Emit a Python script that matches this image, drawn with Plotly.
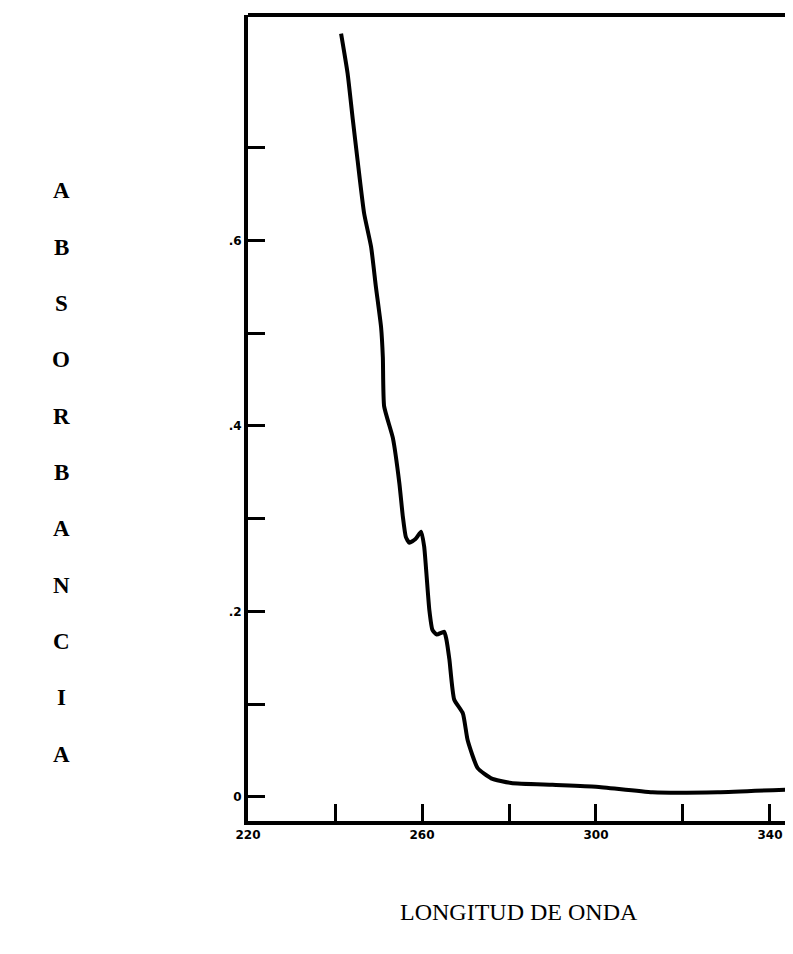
import plotly.graph_objects as go

# Wavelength (nm) and absorbance
wavelength = [241.4, 242.9, 244.1, 245.2, 246.7, 248.3, 249.4, 250.6, 251.0, 251.3,
              253.3, 254.8, 255.6, 256.3, 257.1, 258.5, 259.8, 260.5, 260.9, 261.7,
              262.4, 263.4, 265.1, 265.6, 266.3, 267.4, 269.4, 270.5, 272.8, 275.9,
              280.5, 290.0, 300.0, 313.0, 328.0, 344.5]
absorbance = [0.823, 0.780, 0.730, 0.686, 0.629, 0.593, 0.550, 0.506, 0.474, 0.421,
              0.387, 0.338, 0.302, 0.280, 0.274, 0.278, 0.286, 0.270, 0.248, 0.201,
              0.180, 0.175, 0.178, 0.170, 0.148, 0.105, 0.090, 0.061, 0.031, 0.020,
              0.015, 0.013, 0.011, 0.005, 0.005, 0.008]

x_tickvals = [220, 240, 260, 280, 300, 320, 340]
x_ticktext = ["220", "", "260", "", "300", "", "340"]
y_tickvals = [0, 0.1, 0.2, 0.3, 0.4, 0.5, 0.6, 0.7]
y_ticktext = ["0", "", ".2", "", ".4", "", ".6", ""]

y_title_letters = list("ABSORBANCIA")
x_title = "LONGITUD DE ONDA"

# page body has an 8px margin; figure is sized to fit inside the 793x954 window
OFF = 8
W, H = 785, 930
ml, mr, mt, mb = 240, 3, 7, 117
PW, PH = W - ml - mr, H - mt - mb


def px_to_paper(px, py):
    return (px - OFF - ml) / PW, (H - mb - (py - OFF)) / PH


fig = go.Figure()
fig.add_trace(go.Scatter(
    x=wavelength, y=absorbance, mode="lines",
    line=dict(color="black", width=4, shape="spline", smoothing=0.5),
    showlegend=False, hoverinfo="skip"))

axis_common = dict(showgrid=False, zeroline=False, showline=True, linecolor="black",
                   linewidth=4, ticks="inside", tickcolor="black", tickwidth=3,
                   ticklen=17,
                   tickfont=dict(family="DejaVu Sans", size=12, color="black",
                                 weight="bold"))

fig.update_xaxes(range=[220, 344.6], tickmode="array", tickvals=x_tickvals,
                 ticktext=x_ticktext, mirror=False, **axis_common)
fig.update_yaxes(range=[-0.026, 0.843], tickmode="array", tickvals=y_tickvals,
                 ticktext=y_ticktext, **axis_common)

# top frame line and partial right edge
fig.add_shape(type="line", xref="paper", yref="paper", x0=0, x1=1, y0=1, y1=1,
              line=dict(color="black", width=4))
fig.add_shape(type="line", xref="paper", yref="paper", x0=1, x1=1, y0=0, y1=0.1,
              line=dict(color="black", width=3))

annotations = []
for i, letter in enumerate(y_title_letters):
    ax, ay = px_to_paper(61, 191 + i * 56.3)
    annotations.append(dict(
        text=letter, xref="paper", yref="paper", x=ax, y=ay,
        showarrow=False, xanchor="center", yanchor="middle",
        font=dict(family="Liberation Serif", size=23, color="black", weight="bold")))
tx, ty = px_to_paper(519, 912)
annotations.append(dict(
    text=x_title, xref="paper", yref="paper", x=tx, y=ty,
    showarrow=False, xanchor="center", yanchor="middle",
    font=dict(family="Liberation Serif", size=24, color="black")))

fig.update_layout(width=W, height=H, margin=dict(l=ml, r=mr, t=mt, b=mb),
                  plot_bgcolor="white", paper_bgcolor="white",
                  annotations=annotations)

fig.write_html("out.html")
